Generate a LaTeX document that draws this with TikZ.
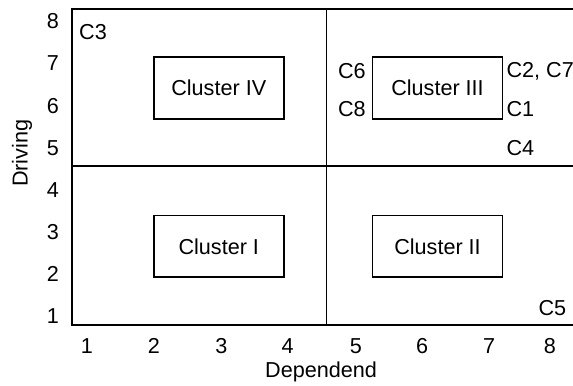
\documentclass[tikz,border=0pt]{standalone}
\usepackage{fontspec}
\setmainfont{Liberation Sans}
\usepackage{tikz}

\tikzset{
  cluster/.style={draw, line width=0.8pt, minimum width=2.285cm, minimum height=1.088cm, inner sep=0pt},
  lbl/.style={inner sep=0pt}
}

\begin{document}
\begin{tikzpicture}[x=1.175cm, y=0.74cm, font=\fontsize{10.8}{12}\selectfont, line width=0.8pt]
\useasboundingbox (-0.30,-0.639) rectangle (8.265,8.506);

% frame and quadrants
\draw (8.265,8.29) -- (0.776,8.29) -- (0.776,0.786) -- (8.265,0.786);
\draw (4.583,8.29) -- (4.583,0.786);
\draw (0.776,4.57) -- (8.265,4.57);

% clusters
\node[cluster] (k4) at (2.97,6.415) {Cluster IV};
\node[cluster] (k3) at (6.24,6.415) {Cluster III};
\node[cluster] (k1) at (2.97,2.66) {Cluster I};
\node[cluster] (k2) at (6.24,2.66) {Cluster II};

% axis numbers
\foreach \i/\u in {1/1, 2/2, 3/3.01, 4/4, 5/5.02, 6/6.01, 7/7.01, 8/7.92}
  \node[lbl] (x\i) at (\u,0.295) {\i};
\foreach \i in {1,...,8}
  \node[lbl] (y\i) at (0.49,\i) {\i};

% axis titles
\node[lbl, rotate=90] (drv) at (0.03,4.87) {Driving};
\node[lbl] (dep) at (4.50,-0.33) {Dependend};

% factors
\node[lbl] (c3) at (1.09,7.75) {C3};
\node[lbl] (c6) at (4.96,6.82) {C6};
\node[lbl] (c8) at (4.96,5.92) {C8};
\node[lbl, anchor=west] (c27) at (7.26,6.82) {C2, C7};
\node[lbl, anchor=west] (c1) at (7.26,5.92) {C1};
\node[lbl, anchor=west] (c4) at (7.26,4.99) {C4};
\node[lbl, anchor=east] (c5) at (8.175,1.20) {C5};
\end{tikzpicture}
\end{document}
